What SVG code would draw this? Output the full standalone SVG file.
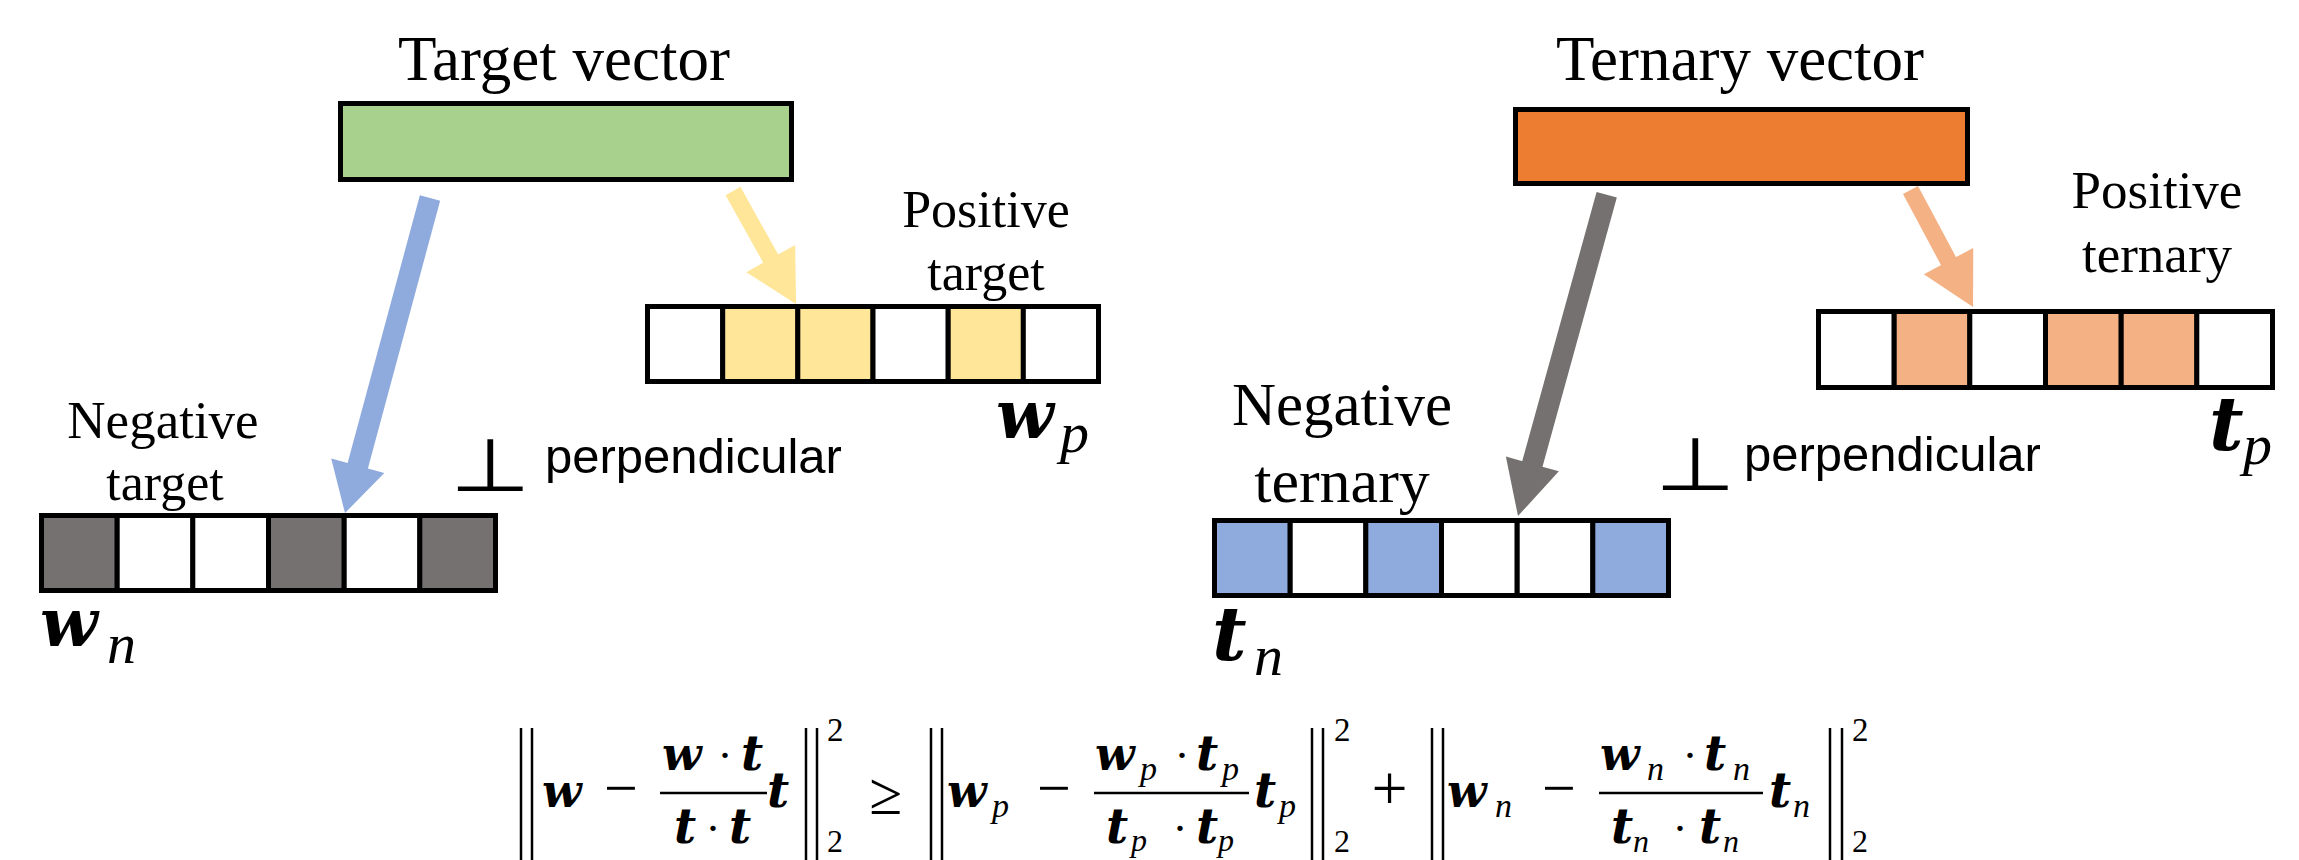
<svg xmlns="http://www.w3.org/2000/svg" width="2299" height="860" viewBox="0 0 2299 860">
<style>
.serif{font-family:"Liberation Serif","Times New Roman",serif;fill:#000}
.sans{font-family:"Liberation Sans",Arial,sans-serif;fill:#000}
.mb{font-family:"DejaVu Serif",serif;font-weight:bold;font-style:italic;fill:#000}
.mi{font-family:"Liberation Serif","Times New Roman",serif;font-style:italic;fill:#000}
.cell{stroke:#000;stroke-width:5}
.box{stroke:#000;stroke-width:5}
.bar{stroke:#000;stroke-width:2.5}
.w{fill:#FFFFFF}.y{fill:#FFE699}.g{fill:#767171}.b{fill:#8FAADC}.p{fill:#F4B183}
</style>
<defs>
<marker id="hBlue" markerUnits="userSpaceOnUse" markerWidth="60" markerHeight="60" refX="1" refY="27.5" orient="auto" overflow="visible"><path d="M0,0 L49,27.5 L0,55 z" fill="#8FAADC"/></marker>
<marker id="hGrey" markerUnits="userSpaceOnUse" markerWidth="60" markerHeight="60" refX="1" refY="27.5" orient="auto" overflow="visible"><path d="M0,0 L54,27.5 L0,55 z" fill="#767171"/></marker>
<marker id="hYellow" markerUnits="userSpaceOnUse" markerWidth="60" markerHeight="60" refX="1" refY="28" orient="auto" overflow="visible"><path d="M0,0 L52,28 L0,56 z" fill="#FFE699"/></marker>
<marker id="hPeach" markerUnits="userSpaceOnUse" markerWidth="60" markerHeight="60" refX="1" refY="28" orient="auto" overflow="visible"><path d="M0,0 L52,28 L0,56 z" fill="#F4B183"/></marker>
</defs>
<rect width="2299" height="860" fill="#FFFFFF"/>

<g id="target-vector">
<text class="serif" x="564" y="80" font-size="63" text-anchor="middle">Target vector</text>
<rect class="box" x="340.5" y="103.5" width="451" height="76" fill="#A9D18E"/>
</g>

<g id="positive-target">
<text class="serif" x="986" y="227" font-size="52" text-anchor="middle">Positive</text>
<text class="serif" x="986" y="290" font-size="52" text-anchor="middle">target</text>
<rect class="cell w" x="647.5" y="306.5" width="75.2" height="75"/>
<rect class="cell y" x="722.7" y="306.5" width="75.2" height="75"/>
<rect class="cell y" x="797.8" y="306.5" width="75.2" height="75"/>
<rect class="cell w" x="873" y="306.5" width="75.2" height="75"/>
<rect class="cell y" x="948.2" y="306.5" width="75.2" height="75"/>
<rect class="cell w" x="1023.3" y="306.5" width="75.2" height="75"/>
<text class="mb" x="996" y="438" font-size="67">w</text>
<text class="mi" x="1060" y="452" font-size="58">p</text>
</g>

<g id="negative-target">
<text class="serif" x="163" y="438" font-size="53" text-anchor="middle">Negative</text>
<text class="serif" x="165" y="500" font-size="52" text-anchor="middle">target</text>
<rect class="cell g" x="41.5" y="515.5" width="75.7" height="75"/>
<rect class="cell w" x="117.2" y="515.5" width="75.7" height="75"/>
<rect class="cell w" x="192.8" y="515.5" width="75.7" height="75"/>
<rect class="cell g" x="268.5" y="515.5" width="75.7" height="75"/>
<rect class="cell w" x="344.2" y="515.5" width="75.7" height="75"/>
<rect class="cell g" x="419.8" y="515.5" width="75.7" height="75"/>
<text class="mb" x="40" y="646" font-size="67">w</text>
<text class="mi" x="107" y="663" font-size="58">n</text>
</g>

<g id="perpendicular-left">
<text class="sans" x="490" y="491" font-size="74" text-anchor="middle" transform="translate(490 0) scale(1.25 1) translate(-490 0)">⊥</text>
<text class="sans" x="545" y="473" font-size="49">perpendicular</text>
</g>

<g id="ternary-vector">
<text class="serif" x="1740" y="80" font-size="63" text-anchor="middle">Ternary vector</text>
<rect class="box" x="1515.5" y="109.5" width="452" height="74" fill="#ED7D31"/>
</g>

<g id="positive-ternary">
<text class="serif" x="2157" y="208" font-size="53" text-anchor="middle">Positive</text>
<text class="serif" x="2157" y="272" font-size="53" text-anchor="middle">ternary</text>
<rect class="cell w" x="1818.5" y="311.5" width="75.7" height="76"/>
<rect class="cell p" x="1894.2" y="311.5" width="75.7" height="76"/>
<rect class="cell w" x="1969.8" y="311.5" width="75.7" height="76"/>
<rect class="cell p" x="2045.5" y="311.5" width="75.7" height="76"/>
<rect class="cell p" x="2121.2" y="311.5" width="75.7" height="76"/>
<rect class="cell w" x="2196.8" y="311.5" width="75.7" height="76"/>
<text class="mb" x="2209" y="450" font-size="75">t</text>
<text class="mi" x="2243" y="464" font-size="58">p</text>
</g>

<g id="negative-ternary">
<text class="serif" x="1342" y="425" font-size="61" text-anchor="middle">Negative</text>
<text class="serif" x="1342" y="502" font-size="62" text-anchor="middle">ternary</text>
<rect class="cell b" x="1214.5" y="520.5" width="75.7" height="75"/>
<rect class="cell w" x="1290.2" y="520.5" width="75.7" height="75"/>
<rect class="cell b" x="1365.8" y="520.5" width="75.7" height="75"/>
<rect class="cell w" x="1441.5" y="520.5" width="75.7" height="75"/>
<rect class="cell w" x="1517.2" y="520.5" width="75.7" height="75"/>
<rect class="cell b" x="1592.8" y="520.5" width="75.7" height="75"/>
<text class="mb" x="1212" y="660" font-size="75">t</text>
<text class="mi" x="1254" y="675" font-size="58">n</text>
</g>

<g id="perpendicular-right">
<text class="sans" x="1695" y="490" font-size="74" text-anchor="middle" transform="translate(1695 0) scale(1.25 1) translate(-1695 0)">⊥</text>
<text class="sans" x="1744" y="471" font-size="49">perpendicular</text>
</g>

<g id="connectors">
<line x1="430" y1="198" x2="357.5" y2="466.7" stroke="#8FAADC" stroke-width="21" marker-end="url(#hBlue)"/>
<line x1="733" y1="191" x2="771.2" y2="259.5" stroke="#FFE699" stroke-width="17" marker-end="url(#hYellow)"/>
<line x1="1606.7" y1="194.7" x2="1532.1" y2="464.9" stroke="#767171" stroke-width="21" marker-end="url(#hGrey)"/>
<line x1="1910.5" y1="190" x2="1949" y2="262" stroke="#F4B183" stroke-width="17" marker-end="url(#hPeach)"/>
</g>

<g id="formula">
<line class="bar" x1="521" y1="728" x2="521" y2="862"/><line class="bar" x1="532" y1="728" x2="532" y2="862"/>
<text class="mb" x="542" y="807" font-size="46">w</text>
<text class="serif" x="621" y="808" font-size="60" text-anchor="middle">−</text>
<line class="bar" x1="660" y1="793" x2="767" y2="793"/>
<text class="mb" x="662" y="770" font-size="46">w</text>
<text class="serif" x="725" y="770" font-size="45" text-anchor="middle">·</text>
<text class="mb" x="741" y="770" font-size="48">t</text>
<text class="mb" x="674" y="843" font-size="48">t</text>
<text class="serif" x="713" y="843" font-size="45" text-anchor="middle">·</text>
<text class="mb" x="729" y="843" font-size="48">t</text>
<text class="mb" x="767" y="807" font-size="48">t</text>
<line class="bar" x1="806" y1="728" x2="806" y2="862"/><line class="bar" x1="817" y1="728" x2="817" y2="862"/>
<text class="serif" x="827" y="741" font-size="33">2</text>
<text class="serif" x="827" y="852" font-size="32">2</text>
<text class="serif" x="886" y="814" font-size="60" text-anchor="middle">≥</text>

<line class="bar" x1="931" y1="728" x2="931" y2="862"/><line class="bar" x1="942" y1="728" x2="942" y2="862"/>
<text class="mb" x="947" y="807" font-size="46">w</text>
<text class="mi" x="992" y="817" font-size="34">p</text>
<text class="serif" x="1054" y="808" font-size="60" text-anchor="middle">−</text>
<line class="bar" x1="1094" y1="793" x2="1249" y2="793"/>
<text class="mb" x="1095" y="770" font-size="46">w</text>
<text class="mi" x="1140" y="780" font-size="34">p</text>
<text class="serif" x="1182" y="770" font-size="45" text-anchor="middle">·</text>
<text class="mb" x="1196" y="770" font-size="48">t</text>
<text class="mi" x="1222" y="780" font-size="34">p</text>
<text class="mb" x="1106" y="843" font-size="48">t</text>
<text class="mi" x="1131" y="851" font-size="32">p</text>
<text class="serif" x="1180" y="843" font-size="45" text-anchor="middle">·</text>
<text class="mb" x="1196" y="843" font-size="48">t</text>
<text class="mi" x="1218" y="851" font-size="32">p</text>
<text class="mb" x="1254" y="807" font-size="48">t</text>
<text class="mi" x="1279" y="817" font-size="34">p</text>
<line class="bar" x1="1312" y1="728" x2="1312" y2="862"/><line class="bar" x1="1323" y1="728" x2="1323" y2="862"/>
<text class="serif" x="1334" y="741" font-size="33">2</text>
<text class="serif" x="1334" y="852" font-size="32">2</text>
<text class="serif" x="1389.5" y="810" font-size="64" text-anchor="middle">+</text>

<line class="bar" x1="1432" y1="728" x2="1432" y2="862"/><line class="bar" x1="1443" y1="728" x2="1443" y2="862"/>
<text class="mb" x="1447" y="807" font-size="46">w</text>
<text class="mi" x="1495" y="817" font-size="34">n</text>
<text class="serif" x="1559" y="808" font-size="60" text-anchor="middle">−</text>
<line class="bar" x1="1599" y1="793" x2="1763" y2="793"/>
<text class="mb" x="1600" y="770" font-size="46">w</text>
<text class="mi" x="1647" y="780" font-size="34">n</text>
<text class="serif" x="1690" y="770" font-size="45" text-anchor="middle">·</text>
<text class="mb" x="1704" y="770" font-size="48">t</text>
<text class="mi" x="1733" y="780" font-size="34">n</text>
<text class="mb" x="1611" y="843" font-size="48">t</text>
<text class="mi" x="1633" y="852" font-size="32">n</text>
<text class="serif" x="1680" y="843" font-size="45" text-anchor="middle">·</text>
<text class="mb" x="1699" y="843" font-size="48">t</text>
<text class="mi" x="1723" y="852" font-size="32">n</text>
<text class="mb" x="1769" y="807" font-size="48">t</text>
<text class="mi" x="1793" y="817" font-size="34">n</text>
<line class="bar" x1="1830" y1="728" x2="1830" y2="862"/><line class="bar" x1="1842" y1="728" x2="1842" y2="862"/>
<text class="serif" x="1852" y="741" font-size="33">2</text>
<text class="serif" x="1852" y="852" font-size="32">2</text>
</g>
</svg>
